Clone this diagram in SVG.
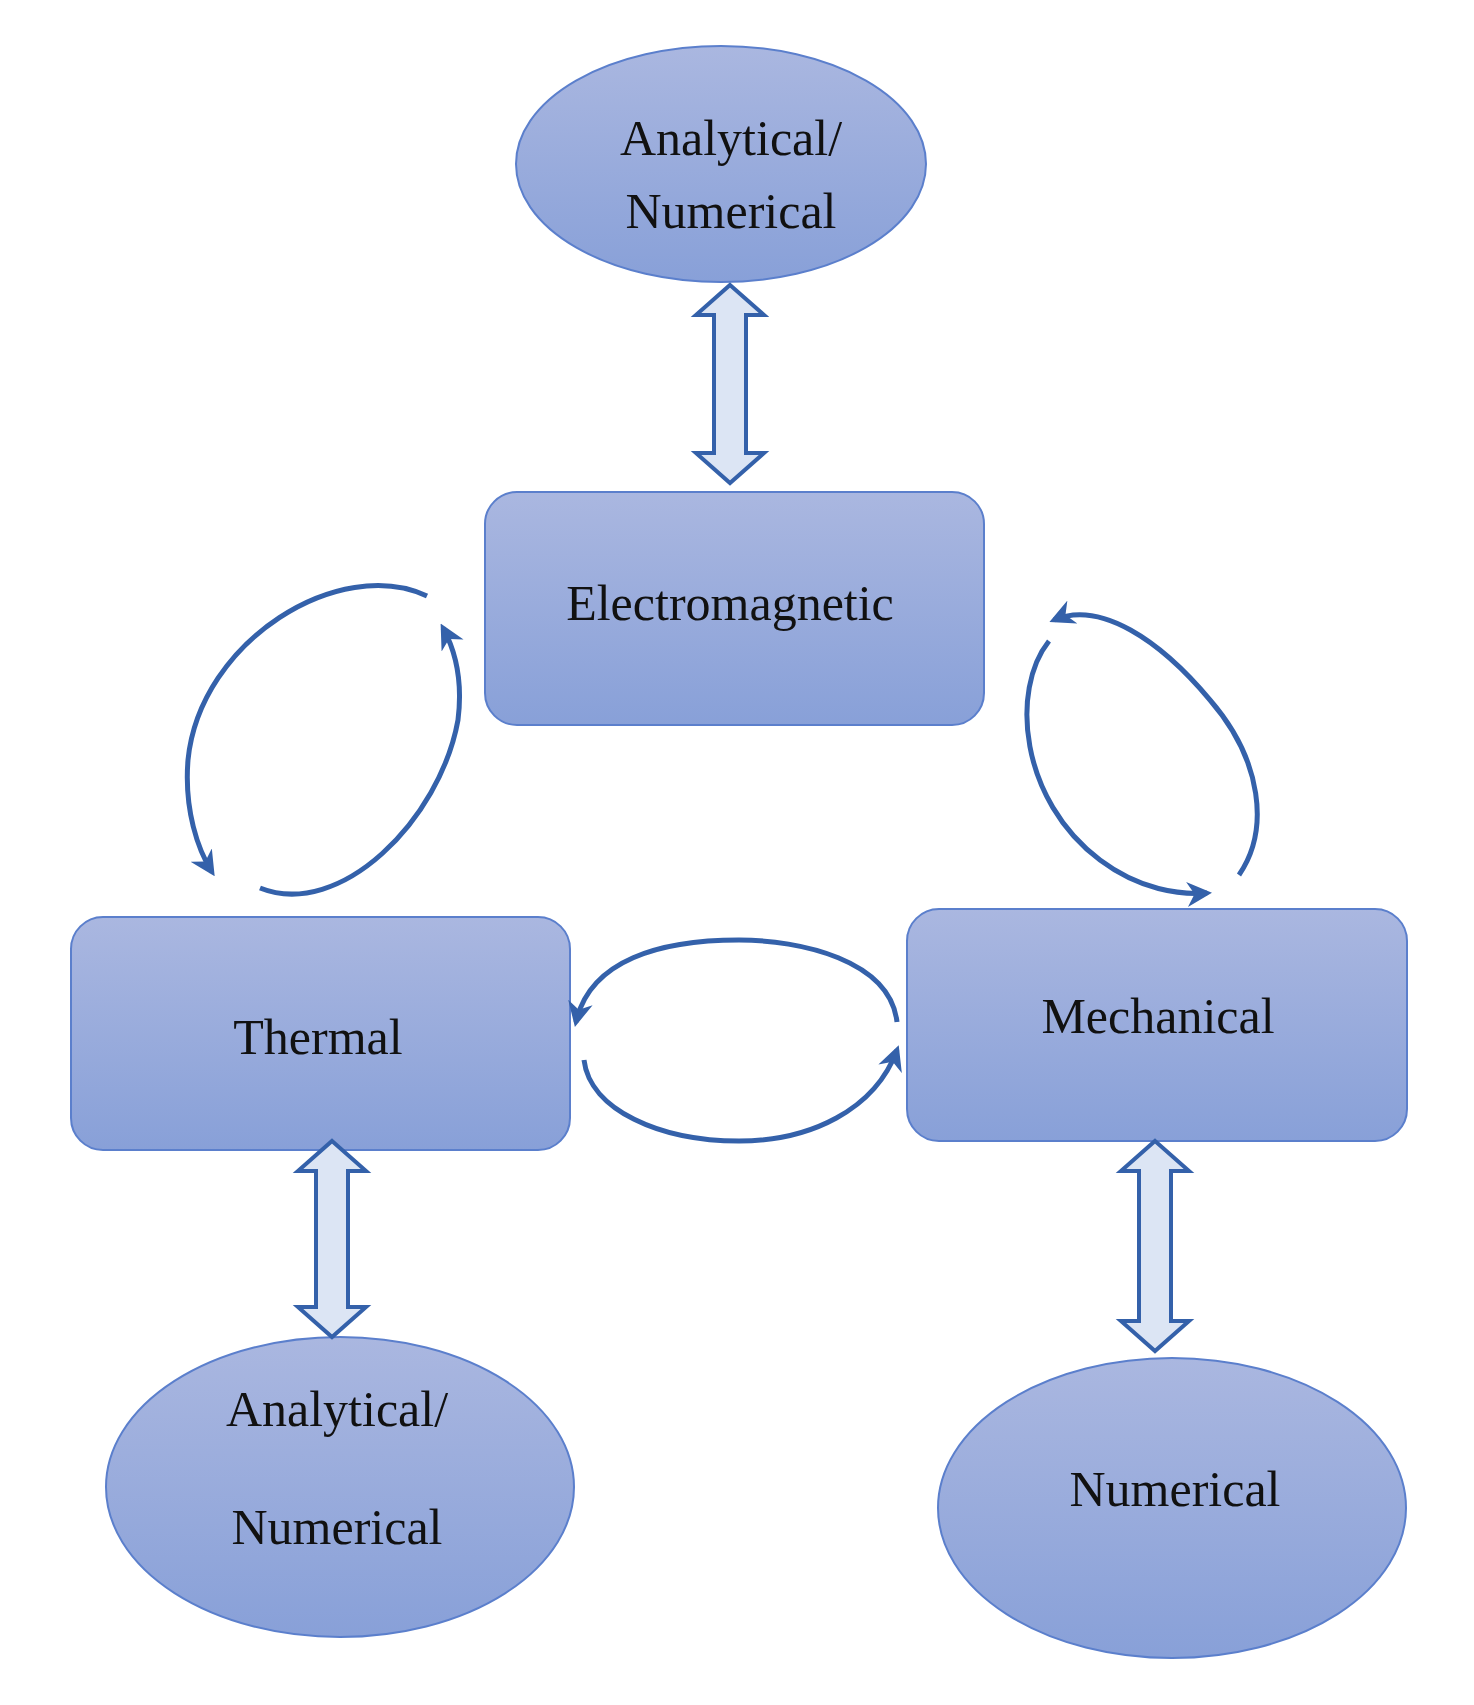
<svg xmlns="http://www.w3.org/2000/svg" width="1474" height="1705" viewBox="0 0 1474 1705">
<style>
.n{fill:url(#g);stroke:#5b7fcc;stroke-width:2}
.t{font-family:"Liberation Serif",serif;font-size:50px;fill:#111;text-anchor:middle}
.da{fill:#dce5f4;stroke:#3461aa;stroke-width:4;stroke-linejoin:miter}
.c{fill:none;stroke:#3461aa;stroke-width:5;stroke-linecap:butt}
</style>
<defs>
<linearGradient id="g" x1="0" y1="0" x2="0" y2="1"><stop offset="0" stop-color="#aab7e0"/><stop offset="1" stop-color="#88a0d8"/></linearGradient>
<marker id="ah" viewBox="0 0 10 10" refX="8" refY="5" markerWidth="5" markerHeight="5" orient="auto" markerUnits="strokeWidth"><path d="M0,0 L10,5 L0,10 L3,5 Z" fill="#3461aa"/></marker>
</defs>
<g id="analytical-top"><ellipse class="n" cx="721" cy="164" rx="205" ry="118"/><text class="t" x="731" y="155">Analytical/</text><text class="t" x="731" y="228">Numerical</text></g>
<g id="electromagnetic"><rect class="n" x="485" y="492" width="499" height="233" rx="32"/><text class="t" x="730" y="620" font-size="54">Electromagnetic</text></g>
<g id="thermal"><rect class="n" x="71" y="917" width="499" height="233" rx="32"/><text class="t" x="318" y="1054" font-size="54">Thermal</text></g>
<g id="mechanical"><rect class="n" x="907" y="909" width="500" height="232" rx="32"/><text class="t" x="1158" y="1033" font-size="54">Mechanical</text></g>
<g id="analytical-bottom"><ellipse class="n" cx="340" cy="1487" rx="234" ry="150"/><text class="t" x="337" y="1426" font-size="54">Analytical/</text><text class="t" x="337" y="1544" font-size="54">Numerical</text></g>
<g id="numerical"><ellipse class="n" cx="1172" cy="1508" rx="234" ry="150"/><text class="t" x="1175" y="1506" font-size="54">Numerical</text></g>
<g id="connectors">
<polygon class="da" points="730,285 764,315 746,315 746,453 764,453 730,483 696,453 714,453 714,315 696,315"/>
<polygon class="da" points="332,1141 366,1171 348,1171 348,1307 366,1307 332,1337 298,1307 316,1307 316,1171 298,1171"/>
<polygon class="da" points="1155,1141 1189,1171 1171,1171 1171,1321 1189,1321 1155,1351 1121,1321 1139,1321 1139,1171 1121,1171"/>
<path class="c" marker-end="url(#ah)" d="M 427 596 C 340 555, 200 640, 188 760 C 184 810, 198 850, 212 872"/>
<path class="c" marker-end="url(#ah)" d="M 260 888 C 340 920, 440 820, 458 720 C 463 680, 455 650, 443 628"/>
<path class="c" marker-end="url(#ah)" d="M 1049 641 C 1010 690, 1020 800, 1100 860 C 1140 890, 1180 895, 1207 893"/>
<path class="c" marker-end="url(#ah)" d="M 1239 875 C 1270 830, 1262 760, 1210 700 C 1160 640, 1100 600, 1054 620"/>
<path class="c" marker-end="url(#ah)" d="M 897 1022 C 890 960, 800 940, 739 940 C 660 940, 590 960, 576 1022"/>
<path class="c" marker-end="url(#ah)" d="M 584 1060 C 590 1110, 660 1141, 739 1141 C 810 1141, 875 1110, 897 1050"/>
</g>
</svg>
